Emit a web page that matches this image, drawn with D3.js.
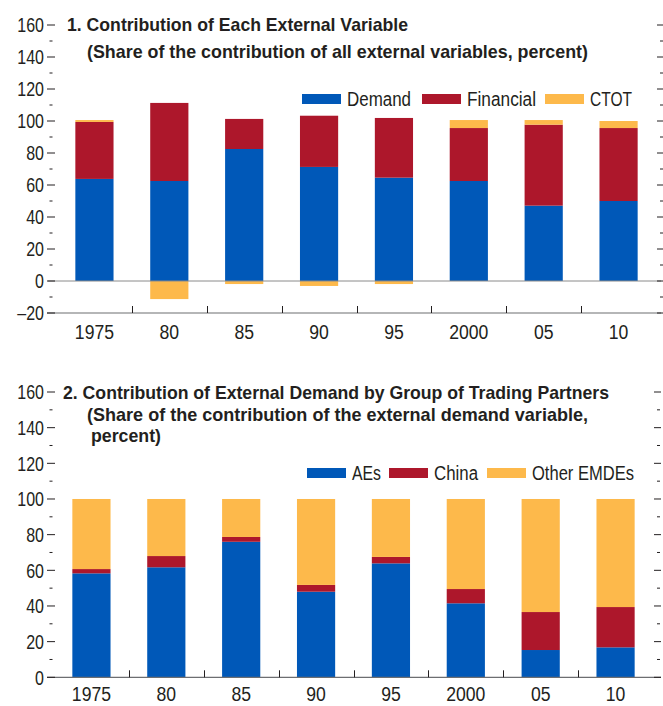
<!DOCTYPE html>
<html><head><meta charset="utf-8">
<script src="https://cdn.jsdelivr.net/npm/d3@7"></script>
<style>
body{margin:0;background:#fff}
text{font-family:'Liberation Sans',Arial,sans-serif;fill:#231f20}
</style>
</head><body>
<svg id="c" width="663" height="706"></svg>
<script>
// ---------- data ----------
const categories = ["1975","80","85","90","95","2000","05","10"];

// Panel 1: contribution of each external variable (percent)
const demand    = [63.8, 62.5, 82.5, 71.3, 64.6, 62.5, 47.1, 50.0];
const financial = [35.6, 48.8, 18.8, 32.0, 37.3, 33.1, 50.6, 45.6];
const ctot      = [1.2, -11.3, -1.9, -3.1, -1.9, 5.0, 2.9, 4.4];

// Panel 2: contribution of external demand by trading partner (percent)
const aes        = [58.3, 61.7, 76.0, 48.0, 63.9, 41.5, 15.3, 16.8];
const china      = [2.4, 6.3, 2.7, 3.8, 3.6, 8.0, 21.3, 22.6];
const otherEmdes = [39.3, 32.0, 21.3, 48.2, 32.5, 50.5, 63.4, 60.6];

const yTicks1 = [-20,0,20,40,60,80,100,120,140,160];
const yTicks2 = [0,20,40,60,80,100,120,140,160];

const title1 = ["1. Contribution of Each External Variable",
                "(Share of the contribution of all external variables, percent)"];
const title2 = ["2. Contribution of External Demand by Group of Trading Partners",
                "(Share of the contribution of the external demand variable,",
                "percent)"];

const legend1 = ["Demand","Financial","CTOT"];
const legend2 = ["AEs","China","Other EMDEs"];

const colors = ["#0058b8","#ad172b","#fdb94b"];

// ---------- drawing ----------
const svg = d3.select("#c");

function panel(cfg){
  const g = svg.append("g");
  const x = d3.scaleBand().domain(categories).range(cfg.xRange).padding(0);
  const y = d3.scaleLinear().domain(cfg.yDomain).range(cfg.yRange);
  const barW = x.bandwidth()*0.51;

  const rows = categories.map((c,i)=>{
    const o = {cat:c};
    cfg.keys.forEach((k,j)=>o[k]=cfg.series[j][i]);
    return o;
  });
  const stack = d3.stack().keys(cfg.keys).offset(d3.stackOffsetDiverging)(rows);

  stack.forEach((s,j)=>{
    g.append("g").attr("fill",colors[j]).selectAll("rect").data(s).join("rect")
      .attr("x",d=>x(d.data.cat)+(x.bandwidth()-barW)/2)
      .attr("width",barW)
      .attr("y",d=>y(Math.max(d[0],d[1])))
      .attr("height",d=>Math.abs(y(d[0])-y(d[1])));
  });

  const x1 = cfg.xRange[1];
  if (cfg.yDomain[0] < 0){
    g.append("line").attr("x1",48).attr("x2",661).attr("y1",y(0)).attr("y2",y(0))
      .attr("stroke","#8a8a8a").attr("stroke-width",1);
  }
  const yb = y(cfg.yDomain[0]);
  g.append("line").attr("x1",47).attr("x2",661).attr("y1",yb).attr("y2",yb)
    .attr("stroke","#6d6e71").attr("stroke-width",1.2);
  g.selectAll(".sep").data(categories.slice(1)).join("line")
    .attr("x1",d=>Math.round(x(d))+0.5).attr("x2",d=>Math.round(x(d))+0.5)
    .attr("y1",yb).attr("y2",yb-7).attr("stroke","#231f20");

  const majors = cfg.yTicks;
  const minors = d3.range(cfg.yDomain[0]+10, cfg.yDomain[1], 20);
  g.selectAll(".maj").data(majors).join("line")
    .attr("x1",47).attr("x2",55).attr("y1",d=>y(d)).attr("y2",d=>y(d)).attr("stroke","#231f20");
  g.selectAll(".min").data(minors).join("line")
    .attr("x1",49.5).attr("x2",52.5).attr("y1",d=>y(d)).attr("y2",d=>y(d)).attr("stroke","#231f20");
  g.selectAll(".majr").data(majors).join("line")
    .attr("x1",x1+1).attr("x2",x1+8).attr("y1",d=>y(d)).attr("y2",d=>y(d)).attr("stroke","#231f20");
  g.selectAll(".minr").data(minors).join("line")
    .attr("x1",x1+4).attr("x2",x1+7).attr("y1",d=>y(d)).attr("y2",d=>y(d)).attr("stroke","#231f20");

  g.selectAll(".yl").data(majors).join("text")
    .attr("transform",d=>`translate(44,${y(d)}) scale(0.8,1)`)
    .attr("dy","0.36em").attr("text-anchor","end")
    .style("font-size","20px")
    .text(d=>d<0 ? "\u2013"+Math.abs(d) : d);

  g.selectAll(".xl").data(categories).join("text")
    .attr("transform",d=>`translate(${x(d)+x.bandwidth()/2},${cfg.xLabelY}) scale(0.84,1)`)
    .attr("text-anchor","middle")
    .style("font-size","21px").text(d=>d);

  cfg.title.forEach((t,i)=>{
    g.append("text").attr("x",cfg.titleX[i]).attr("y",cfg.titleY[i])
      .attr("textLength",cfg.titleW[i]).attr("lengthAdjust","spacingAndGlyphs")
      .style("font-size","18.5px").style("font-weight","bold").text(t);
  });

  cfg.legend.forEach((t,i)=>{
    g.append("rect").attr("x",cfg.legX[i]).attr("y",cfg.legY-5).attr("width",39).attr("height",10)
      .attr("fill",colors[i]);
    g.append("text").attr("x",cfg.legX[i]+45).attr("y",cfg.legY).attr("dy","0.36em")
      .attr("textLength",cfg.legW[i]).attr("lengthAdjust","spacingAndGlyphs")
      .style("font-size","20px").text(t);
  });
}

panel({
  keys:["demand","financial","ctot"], series:[demand,financial,ctot],
  xRange:[57,656], yDomain:[-20,160], yRange:[313,25], yTicks:yTicks1,
  xLabelY:339,
  title:title1, titleX:[67,87], titleY:[31,58], titleW:[341,501],
  legend:legend1, legX:[302,422,545], legY:99, legW:[64,69,42]
});

panel({
  keys:["aes","china","other"], series:[aes,china,otherEmdes],
  xRange:[54,653], yDomain:[0,160], yRange:[677.3,392], yTicks:yTicks2,
  xLabelY:701,
  title:title2, titleX:[63,87,91], titleY:[399,421,442], titleW:[546,501,70],
  legend:legend2, legX:[307,389,487], legY:473, legW:[29,44,102]
});
</script>
</body></html>
